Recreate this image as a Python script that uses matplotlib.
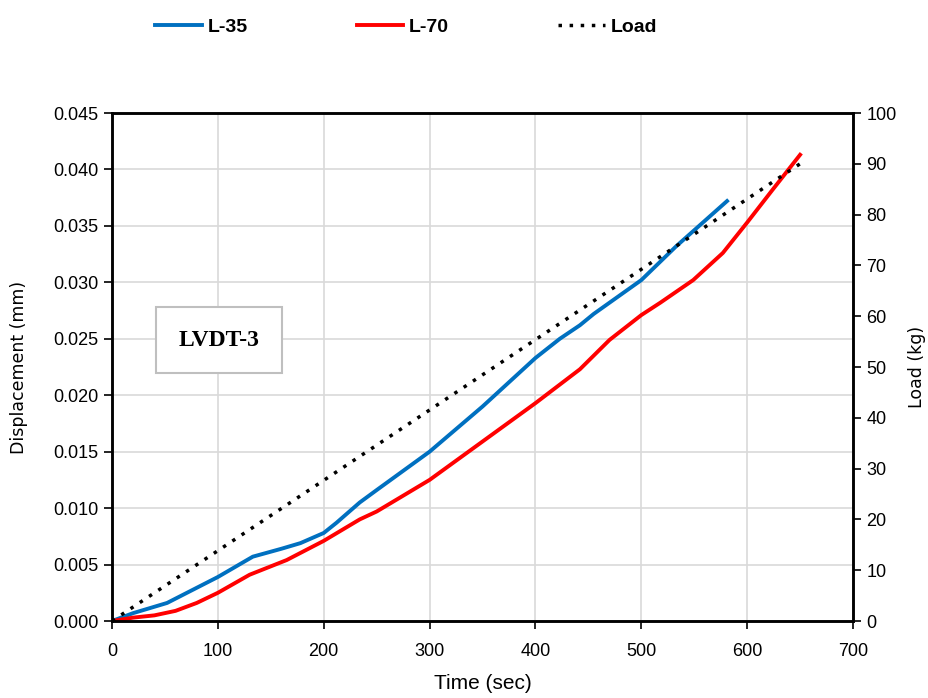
import matplotlib.pyplot as plt

# L-35 (blue)
t_l35 = [0, 20, 52, 100, 133, 160, 178, 200, 212, 234, 250, 300, 350, 400, 423, 442, 455, 500,
         533, 581]
d_l35 = [0.0, 0.0007, 0.0016, 0.0039, 0.0057, 0.0064, 0.0069, 0.0078, 0.0087, 0.0105, 0.0116,
         0.0150, 0.0190, 0.0233, 0.0250, 0.0262, 0.0272, 0.0302, 0.0332, 0.0372]

# L-70 (red)
t_l70 = [0, 20, 40, 60, 80, 100, 130, 165, 200, 234, 250, 300, 350, 400, 442, 470, 500, 518, 549,
         577, 600, 624, 650]
d_l70 = [0.0, 0.0003, 0.0005, 0.0009, 0.0016, 0.0025, 0.0041, 0.0054, 0.0071, 0.0090, 0.0097,
         0.0125, 0.0159, 0.0193, 0.0223, 0.0249, 0.0271, 0.0282, 0.0302, 0.0326, 0.0353, 0.0382,
         0.0413]

# Load (kg)
t_load = [0, 650]
load = [0, 90]

tickfont = "Liberation Sans"

fig = plt.figure(figsize=(9.29, 6.98), dpi=100)
ax = fig.add_axes([0.1206, 0.1103, 0.7976, 0.7278])
ax2 = ax.twinx()

l1, = ax.plot(t_l35, d_l35, color="#0070C0", lw=2.8, label="L-35", solid_joinstyle="round")
l2, = ax.plot(t_l70, d_l70, color="#FF0000", lw=2.8, label="L-70", solid_joinstyle="round")
l3, = ax2.plot(t_load, load, color="black", lw=2.5, ls=(0, (1, 2.2)), label="Load")

ax.set_xlim(0, 700)
ax.set_ylim(0, 0.045)
ax2.set_ylim(0, 100)
ax.set_xticks(range(0, 701, 100))
ax.set_yticks([i * 0.005 for i in range(10)])
ax2.set_yticks(range(0, 101, 10))
ax.set_yticklabels(["%.3f" % (i * 0.005) for i in range(10)])

ax.grid(True, color="#d9d9d9", lw=1.2)
ax.set_axisbelow(True)

for a in (ax, ax2):
    for s in a.spines.values():
        s.set_color("black")
        s.set_linewidth(1.8)
    a.tick_params(direction="out", length=6, width=1.2, color="black")
    for lab in a.get_xticklabels() + a.get_yticklabels():
        lab.set_fontfamily(tickfont)
        lab.set_fontsize(13)
ax.tick_params(axis="x", pad=10)

ax.set_xlabel("Time (sec)", fontfamily=tickfont, fontsize=15, labelpad=10)
ax.set_ylabel("Displacement (mm)", fontfamily="DejaVu Sans", fontsize=12.5, labelpad=18)
ax2.set_ylabel("Load (kg)", fontfamily="DejaVu Sans", fontsize=12.5, labelpad=8)

ax.text(0.144, 0.553, "LVDT-3", transform=ax.transAxes, ha="center", va="center",
        fontfamily="Liberation Serif", fontweight="bold", fontsize=17,
        bbox=dict(boxstyle="square,pad=0.95", fc="white", ec="#bfbfbf", lw=1.5))

fig.legend(handles=[l1, l2, l3], loc="center", bbox_to_anchor=(0.437, 0.961), ncol=3,
           frameon=False, columnspacing=5.6, handlelength=2.4, handletextpad=0.3,
           prop={"family": tickfont, "weight": "bold", "size": 14})

fig.savefig("out.png", dpi=100)
